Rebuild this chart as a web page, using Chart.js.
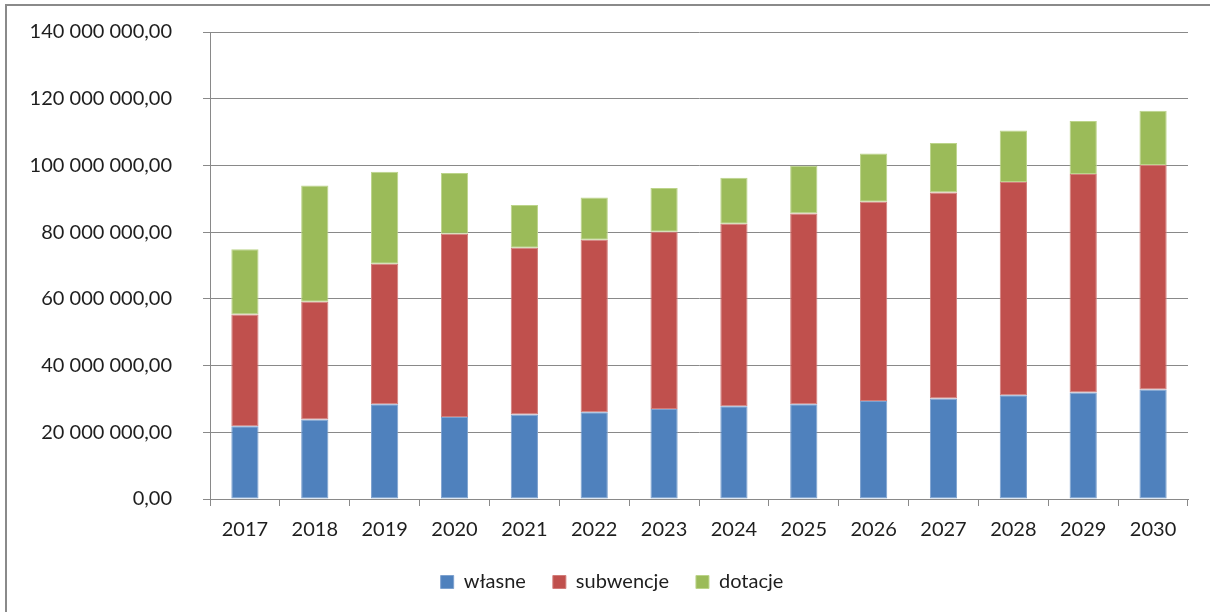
<!DOCTYPE html>
<html>
<head>
<meta charset="utf-8">
<script src="https://cdn.jsdelivr.net/npm/chart.js@4.4.0/dist/chart.umd.min.js"></script>
<style>
  html, body { margin: 0; padding: 0; background: #fff; }
  #frame {
    position: absolute; left: 5px; top: 4px; width: 1210px; height: 620px;
    border-top: 2px solid #8a8a8a; border-left: 2px solid #8a8a8a;
  }
  #wrap { position: absolute; left: 0; top: 0; width: 1210px; height: 612px; }
</style>
</head>
<body>
<div id="frame"></div>
<div id="wrap"><canvas id="chart"></canvas></div>
<script>
// lata
const years = ['2017', '2018', '2019', '2020', '2021', '2022', '2023',
               '2024', '2025', '2026', '2027', '2028', '2029', '2030'];

// wartości w zł
const wlasne = [21800000, 23800000, 28400000, 24600000, 25300000, 26000000, 27000000,
                27800000, 28400000, 29400000, 30100000, 31100000, 31900000, 32800000];
const subwencje = [33500000, 35300000, 42100000, 54900000, 50000000, 51700000, 53100000,
                   54700000, 57200000, 59700000, 61800000, 63900000, 65500000, 67300000];
const dotacje = [19600000, 34900000, 27600000, 18200000, 12800000, 12700000, 13100000,
                 13800000, 14300000, 14500000, 14800000, 15500000, 15900000, 16300000];

const yMax = 140000000;
const yStep = 20000000;

// format "140 000 000,00"
function formatPl(v) {
  const s = Math.round(v).toString().replace(/\B(?=(\d{3})+(?!\d))/g, ' ');
  return s + ',00';
}

const gridColor = '#898989';
const textColor = '#1e1e1e';
Chart.defaults.font.family = 'Lato, "Open Sans", sans-serif';
Chart.defaults.font.size = 20;
Chart.defaults.color = textColor;

// legenda w Excelu jest lekko przesunięta w prawo
const shiftLegend = {
  id: 'shiftLegend',
  afterLayout(chart) {
    chart.legend.left += 18;
    chart.legend.right += 18;
  }
};

const data = {
  labels: years,
  datasets: [
    { label: 'własne', data: wlasne, backgroundColor: '#4F81BD', borderColor: '#7ea2cf', borderWidth: 1 },
    { label: 'subwencje', data: subwencje, backgroundColor: '#C0504D', borderColor: '#d27d7a', borderWidth: 1 },
    { label: 'dotacje', data: dotacje, backgroundColor: '#9BBB59', borderColor: '#bcd48a', borderWidth: 1 }
  ]
};

const config = {
  type: 'bar',
  data,
  plugins: [shiftLegend],
  options: {
    responsive: false,
    animation: false,
    devicePixelRatio: 1,
    layout: { padding: { left: 0, right: 22, top: 32, bottom: 10 } },
    datasets: {
      bar: { categoryPercentage: 1, barPercentage: 0.39, borderSkipped: false }
    },
    plugins: {
      tooltip: { enabled: false },
      legend: {
        position: 'bottom',
        labels: { boxWidth: 13, boxHeight: 13, padding: 27, color: textColor, font: { size: 20 } }
      }
    },
    scales: {
      x: {
        stacked: true,
        grid: { display: true, drawOnChartArea: false, drawTicks: true, tickLength: 7, color: gridColor, offset: true },
        border: { color: gridColor, width: 1 },
        ticks: { padding: 12, color: textColor, font: { size: 20 } },
        afterFit: (scale) => { scale.height = 46; }
      },
      y: {
        stacked: true,
        min: 0,
        max: yMax,
        grid: { color: gridColor, tickLength: 7 },
        border: { color: gridColor, width: 1 },
        ticks: { stepSize: yStep, padding: 31, color: textColor, font: { size: 20 }, callback: (v) => formatPl(v) },
        afterFit: (scale) => {
          scale.width = 210;
          // bez dodatkowego marginesu od padding etykiet
          scale.paddingTop = 0;
          scale.paddingBottom = 0;
        }
      }
    }
  }
};

const canvas = document.getElementById('chart');
canvas.width = 1210;
canvas.height = 612;
new Chart(canvas, config);
</script>
</body>
</html>
